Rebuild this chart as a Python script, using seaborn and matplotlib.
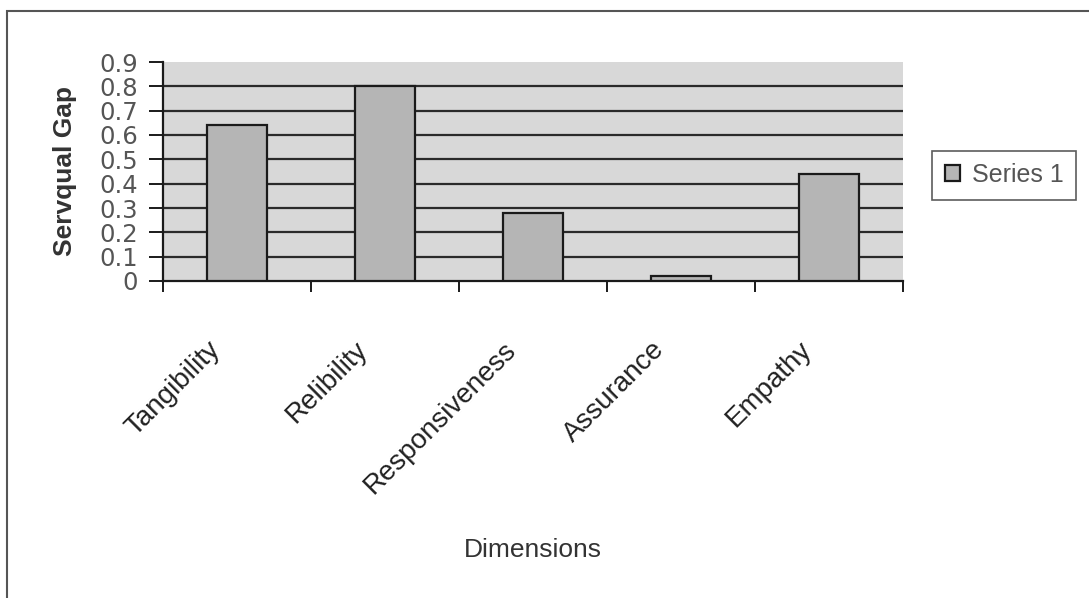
import matplotlib
matplotlib.use("Agg")
import matplotlib.pyplot as plt
import matplotlib.transforms as mtransforms
import seaborn as sns
import pandas as pd
from matplotlib.patches import Rectangle

categories = ["Tangibility", "Relibility", "Responsiveness", "Assurance", "Empathy"]
values = [0.64, 0.80, 0.28, 0.02, 0.44]
series_name = "Series 1"
y_ticks = [0, 0.1, 0.2, 0.3, 0.4, 0.5, 0.6, 0.7, 0.8, 0.9]
y_tick_labels = ["0", "0.1", "0.2", "0.3", "0.4", "0.5", "0.6", "0.7", "0.8", "0.9"]

sns.set_style("white")
plt.rcParams["font.family"] = ["Liberation Sans", "DejaVu Sans"]

df = pd.DataFrame({"Dimension": categories, "Gap": values})

fig = plt.figure(figsize=(10.89, 5.98), dpi=100)
ax = fig.add_axes([163 / 1089, 1 - 281 / 598, (903 - 163) / 1089, (281 - 62) / 598])
ax.set_facecolor("#d8d8d8")

sns.barplot(data=df, x="Dimension", y="Gap", color="#b5b5b5", width=0.41,
            edgecolor="#1a1a1a", linewidth=1.6, saturation=1, label=series_name,
            ax=ax, zorder=3)

ax.set_ylim(0, 0.9)
ax.set_xlim(-0.5, len(categories) - 0.5)
ax.set_yticks(y_ticks)
ax.set_yticklabels(y_tick_labels, fontsize=17.5, color="#555555", family="DejaVu Sans")
ax.yaxis.grid(True, color="#2a2a2a", linewidth=1.6, zorder=1)
ax.set_axisbelow(True)
ax.get_ygridlines()[-1].set_visible(False)
ax.get_ygridlines()[0].set_visible(False)

for s in ["top", "right"]:
    ax.spines[s].set_visible(False)
for s in ["left", "bottom"]:
    ax.spines[s].set_color("#1a1a1a")
    ax.spines[s].set_linewidth(1.6)

ax.tick_params(axis="y", which="major", direction="out", length=10, width=1.4,
               color="#1a1a1a", pad=8, left=True)
ax.set_xticks(range(len(categories)))
ax.set_xticklabels(categories, rotation=45, ha="right", rotation_mode="anchor",
                   fontsize=20, color="#222222")
ax.tick_params(axis="x", which="major", length=0, pad=40)
shift = mtransforms.ScaledTranslation(-30 / 100, 0, fig.dpi_scale_trans)
for lbl in ax.get_xticklabels():
    lbl.set_transform(lbl.get_transform() + shift)
ax.set_xticks([i - 0.5 for i in range(len(categories) + 1)], minor=True)
ax.tick_params(axis="x", which="minor", direction="out", length=8, width=1.4,
               color="#1a1a1a", bottom=True)

ax.set_ylabel("Servqual Gap", fontsize=19, fontweight="bold", color="#333333", labelpad=16)
ax.set_xlabel("Dimensions", fontsize=19, color="#333333", labelpad=28)

leg = ax.legend(loc="center left", bbox_to_anchor=(932 / 1089, 1 - 175 / 598),
                bbox_transform=fig.transFigure, fontsize=18, frameon=True,
                fancybox=False, edgecolor="#333333", handlelength=0.6,
                handleheight=0.6, handletextpad=0.5, borderpad=0.5,
                borderaxespad=0)
for t in leg.get_texts():
    t.set_color("#555555")
leg.get_frame().set_linewidth(1.2)

fig.patches.append(Rectangle((7 / 1089, -0.1), 1.2, 1 - 11 / 598 + 0.1,
                             transform=fig.transFigure, fill=False,
                             edgecolor="#555555", linewidth=1.5, figure=fig))

fig.savefig("out.png", dpi=100, facecolor="white")
